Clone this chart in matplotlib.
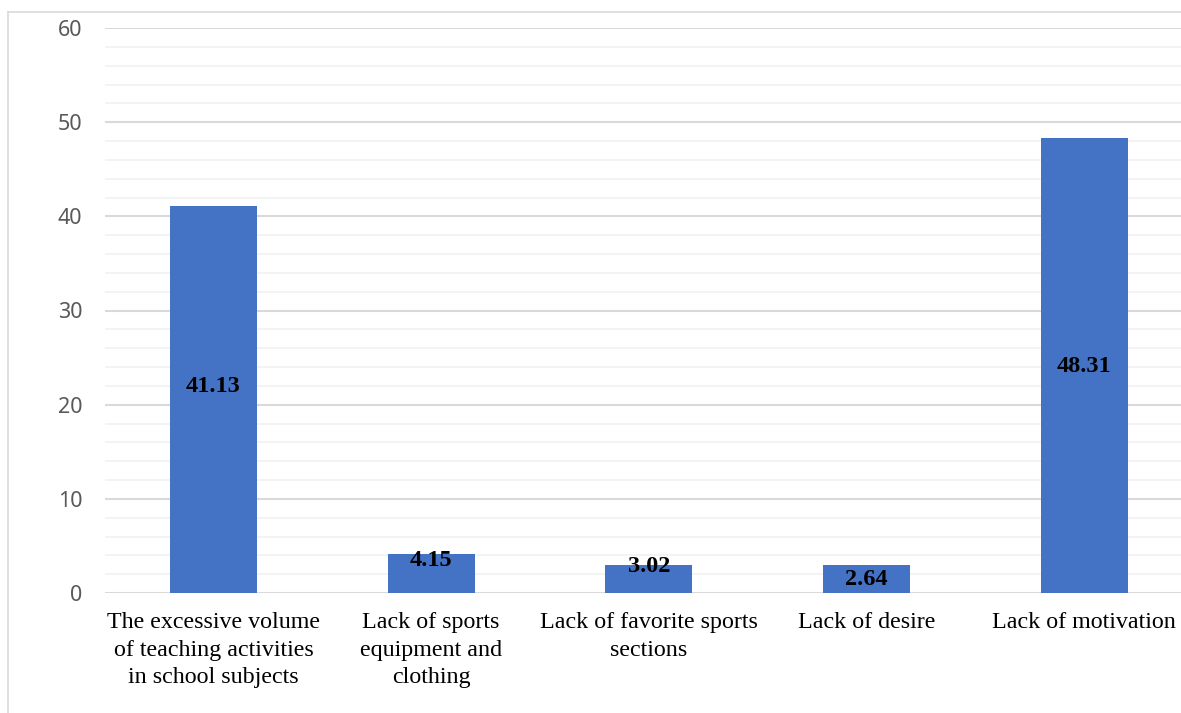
import numpy as np
import matplotlib.pyplot as plt
from matplotlib.lines import Line2D

categories = ["The excessive volume\nof teaching activities\nin school subjects",
              "Lack of sports\nequipment and\nclothing",
              "Lack of favorite sports\nsections",
              "Lack of desire",
              "Lack of motivation"]
bar_heights = [41.13, 4.15, 3.02, 3.0, 48.31]
value_labels = ["41.13", "4.15", "3.02", "2.64", "48.31"]
yticks = [0, 10, 20, 30, 40, 50, 60]

# where the value text sits (data units)
label_y = [21.9, 3.4, 2.8, 1.4, 24.1]

W, H = 1181, 713
fig = plt.figure(figsize=(W / 100, H / 100), dpi=100)
ax = fig.add_axes([104.6 / W, 1 - 593 / H, 1 - 104.6 / W, (593 - 28) / H])

x = np.arange(len(categories))
ax.bar(x, bar_heights, width=0.4, color="#4472C4", zorder=3)

for xi, yv, txt in zip(x, label_y, value_labels):
    ax.text(xi, yv, txt, ha="center", va="center", fontsize=17.5,
            fontweight="bold", family="Liberation Serif", color="black", zorder=4)

ax.set_xlim(-0.5, 4.5 - 12 / 217.7)
ax.set_ylim(0, 60)
ax.set_yticks(yticks)
ax.set_yticks(np.arange(0, 61, 2), minor=True)
ax.grid(axis="y", which="major", color="#d9d9d9", linewidth=1.5, zorder=0)
ax.grid(axis="y", which="minor", color="#f2f2f2", linewidth=1.3, zorder=0)
ax.tick_params(axis="y", which="both", length=0, pad=16, labelsize=15.5, labelcolor="#595959")
for lab in ax.get_yticklabels():
    lab.set_family("Noto Sans")

ax.set_xticks(x)
ax.set_xticklabels(categories, family="Liberation Serif", fontsize=17.3,
                   color="black", linespacing=1.38)
ax.tick_params(axis="x", length=0, pad=14)

for s in ax.spines.values():
    s.set_visible(False)

# outer chart border (clipped at right/bottom in the picture)
fig.add_artist(Line2D([8 / W, 8 / W], [0, 1 - 12 / H], color="#d9d9d9", linewidth=1.2))
fig.add_artist(Line2D([8 / W, 1], [1 - 12 / H, 1 - 12 / H], color="#d9d9d9", linewidth=1.2))

fig.savefig("out.png", dpi=100)
